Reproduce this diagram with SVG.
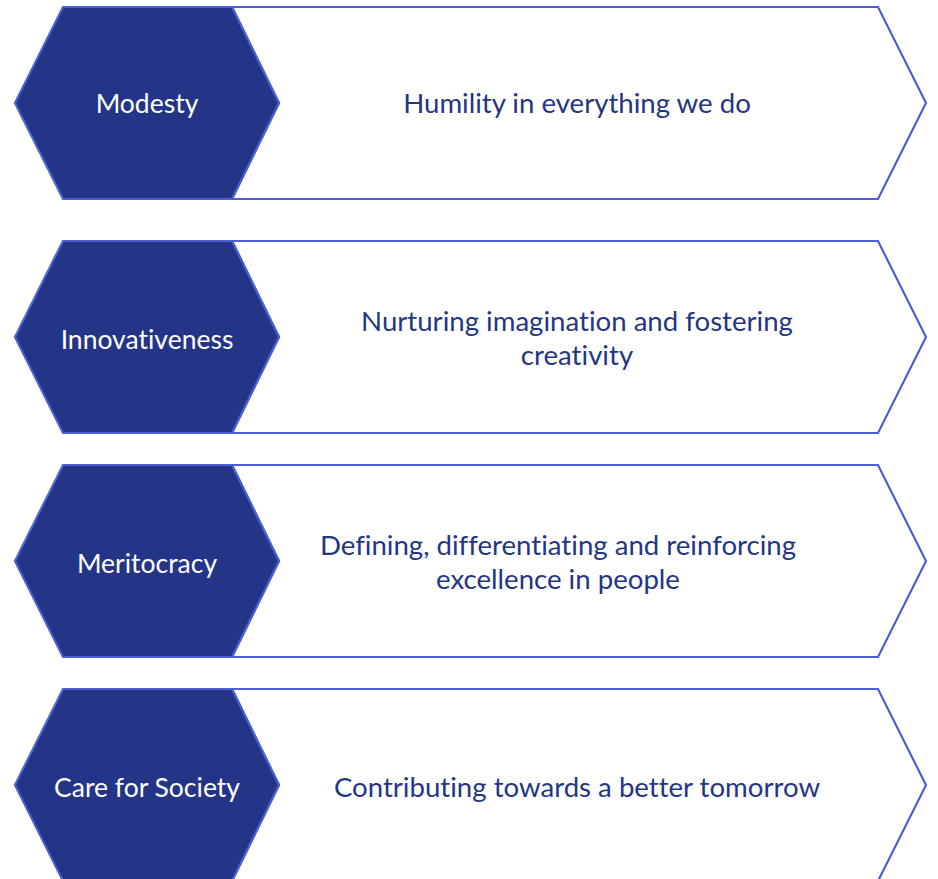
<svg xmlns="http://www.w3.org/2000/svg" width="938" height="879" viewBox="0 0 938 879">
  <style>
    .band { fill: #ffffff; stroke: #4a5fd2; stroke-width: 2.2; stroke-linejoin: miter; }
    .hex { fill: #243588; stroke: #4a5fd2; stroke-width: 2.2; }
    .key { font-family: Lato, "Liberation Sans", sans-serif; font-size: 26.5px; fill: #ffffff; text-anchor: middle; font-variant-ligatures: none; }
    .desc { font-family: Lato, "Liberation Sans", sans-serif; font-size: 27.6px; fill: #253585; text-anchor: middle; font-variant-ligatures: none; }
  </style>
  <defs>
    <polygon id="bandShape" points="232,0 878,0 926,96 878,192 232,192 279,96"/>
    <polygon id="hexShape" points="63,0 232,0 279,96 232,192 63,192 15,96"/>
  </defs>

  <g id="row-modesty" transform="translate(0,7)">
    <use href="#bandShape" class="band"/>
    <use href="#hexShape" class="hex"/>
    <text class="key" x="147" y="106">Modesty</text>
    <text class="desc" x="577" y="106">Humility in everything we do</text>
  </g>

  <g id="row-innovativeness" transform="translate(0,241)">
    <use href="#bandShape" class="band"/>
    <use href="#hexShape" class="hex"/>
    <text class="key" x="147" y="108">Innovativeness</text>
    <text class="desc" x="577" y="90">Nurturing imagination and fostering</text>
    <text class="desc" x="577" y="124">creativity</text>
  </g>

  <g id="row-meritocracy" transform="translate(0,465)">
    <use href="#bandShape" class="band"/>
    <use href="#hexShape" class="hex"/>
    <text class="key" x="147" y="108">Meritocracy</text>
    <text class="desc" x="558" y="90">Defining, differentiating and reinforcing</text>
    <text class="desc" x="558" y="124">excellence in people</text>
  </g>

  <g id="row-care" transform="translate(0,689)">
    <use href="#bandShape" class="band"/>
    <use href="#hexShape" class="hex"/>
    <text class="key" x="147" y="108">Care for Society</text>
    <text class="desc" x="577" y="108">Contributing towards a better tomorrow</text>
  </g>

  <g id="connectors"/>
</svg>
